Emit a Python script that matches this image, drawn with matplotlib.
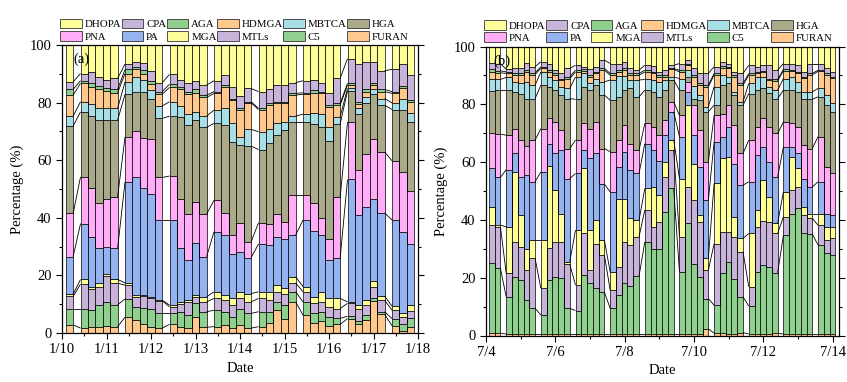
import numpy as np
import matplotlib
matplotlib.use('Agg')
import matplotlib.pyplot as plt
from matplotlib.patches import Patch
from matplotlib.collections import LineCollection
from matplotlib.ticker import MultipleLocator

plt.rcParams['font.family'] = ['Liberation Serif', 'DejaVu Serif']

# sampling times, hours after 00:00 of the first day
hours_a = [4, 12, 16, 20, 24, 28, 36, 40, 44, 48, 52, 60, 64, 68, 72, 76, 84, 88, 92, 96, 100,
           108, 112, 116, 120, 124, 132, 136, 140, 144, 148, 156, 160, 164, 168, 172, 180, 184, 188]
hours_b = [4, 8, 16, 20, 24, 28, 32, 40, 44, 48, 52, 56, 64, 68, 72, 76, 80, 88, 92, 96, 100, 104,
           112, 116, 120, 124, 128, 136, 140, 144, 148, 152, 160, 164, 168, 172, 176, 184, 188, 192,
           196, 200, 208, 212, 216, 220, 224, 232, 236, 240]
ticks_a = ['1/10', '1/11', '1/12', '1/13', '1/14', '1/15', '1/16', '1/17', '1/18']
ticks_b = ['7/4', '7/6', '7/8', '7/10', '7/12', '7/14']

# percentages, panel (a)
DHOPA_a = [12.8, 9.9, 9.3, 11.0, 12.2, 11.6, 6.6, 5.8, 6.4, 8.9, 13.1, 10.2, 12.0, 13.3, 12.4, 13.9, 12.4, 10.5, 14.7, 17.7,
           15.1, 16.2, 15.4, 13.9, 13.9, 13.1, 12.4, 12.0, 13.1, 16.8, 11.6, 4.7, 6.6, 5.8, 5.8, 8.9, 8.5, 6.6, 10.5]
CPA_a = [2.6, 2.5, 3.8, 3.3, 2.9, 3.8, 1.9, 1.8, 2.3, 3.5, 3.1, 3.4, 2.5, 2.9, 3.0, 3.5, 3.8, 3.4, 3.9, 4.3,
         4.6, 5.8, 4.9, 5.8, 5.8, 3.7, 4.2, 3.7, 3.1, 4.1, 8.7, 8.6, 13.1, 9.6, 7.3, 6.5, 7.7, 7.7, 8.6]
AGA_a = [2.0, 0.9, 1.4, 1.1, 0.8, 1.2, 1.4, 0.9, 1.2, 1.2, 0.9, 1.1, 0.9, 0.9, 1.4, 0.8, 0.6, 0.6, 0.5, 0.4,
         0.4, 0.4, 0.4, 0.4, 0.4, 0.6, 0.5, 0.9, 0.4, 0.8, 0.6, 0.6, 0.8, 0.8, 0.8, 0.8, 0.6, 0.8, 0.6]
HDMGA_a = [7.3, 6.4, 6.0, 6.6, 6.1, 5.4, 2.9, 2.5, 2.3, 2.1, 4.1, 5.0, 5.8, 6.9, 6.4, 6.5, 5.8, 7.5, 8.1, 9.5,
           9.2, 7.7, 8.3, 7.1, 6.6, 7.3, 6.9, 6.9, 7.4, 6.9, 4.0, 1.2, 1.5, 2.0, 1.5, 2.4, 3.3, 3.5, 3.8]
MBTCA_a = [3.5, 3.5, 4.2, 4.1, 4.1, 4.1, 4.3, 5.2, 4.0, 3.2, 4.3, 5.0, 3.7, 3.8, 2.9, 3.9, 4.6, 5.8, 6.4, 2.9,
           5.8, 6.2, 5.2, 4.1, 2.8, 2.0, 2.7, 4.0, 4.6, 4.7, 2.6, 0.8, 1.8, 2.1, 1.7, 2.3, 2.3, 4.0, 3.2]
HGA_a = [30.3, 22.6, 24.8, 28.9, 27.2, 26.6, 14.8, 13.6, 16.2, 13.9, 20.5, 20.8, 28.4, 30.9, 28.3, 30.1, 26.7, 30.5, 32.4, 26.9,
         33.2, 25.4, 28.0, 27.4, 31.9, 25.4, 25.4, 27.5, 31.3, 34.2, 25.4, 10.8, 19.6, 17.6, 15.7, 16.2, 17.8, 21.4, 23.9]
PNA_a = [15.0, 16.2, 17.1, 15.6, 16.8, 17.9, 15.6, 16.0, 17.4, 19.0, 14.8, 15.3, 17.3, 16.0, 14.5, 14.8, 10.9, 7.7, 6.4, 10.1,
         5.5, 7.4, 7.3, 7.9, 5.8, 13.9, 8.7, 9.5, 6.1, 7.0, 21.2, 20.0, 15.7, 18.3, 20.8, 21.2, 20.6, 20.8, 18.5]
PA_a = [13.0, 19.4, 17.3, 12.0, 9.4, 10.8, 35.1, 41.0, 37.0, 35.6, 27.8, 29.5, 18.6, 13.9, 17.9, 13.9, 20.9, 20.8, 15.6, 13.9,
        12.5, 16.6, 16.2, 16.8, 17.3, 14.5, 23.1, 22.9, 19.7, 13.5, 13.9, 42.5, 31.2, 32.4, 28.3, 28.9, 29.9, 28.2, 21.2]
MGA_a = [0.8, 1.6, 0.9, 1.3, 0.7, 1.3, 0.8, 0.6, 0.3, 0.3, 0.2, 0.6, 0.8, 0.6, 0.6, 1.8, 2.3, 1.8, 2.3, 2.3,
         2.9, 2.3, 2.9, 2.3, 1.8, 2.1, 1.8, 2.3, 3.5, 2.9, 3.5, 0.5, 1.5, 1.7, 2.0, 1.4, 1.4, 1.4, 2.0]
MTLs_a = [4.3, 8.6, 7.2, 6.3, 8.9, 7.5, 4.8, 3.6, 4.3, 4.0, 4.3, 2.2, 2.6, 4.5, 2.3, 3.4, 4.1, 4.0, 4.1, 3.5,
          4.0, 4.6, 4.0, 3.5, 4.0, 3.1, 3.5, 3.5, 3.4, 3.5, 3.4, 4.5, 4.2, 3.5, 4.1, 4.0, 2.9, 2.6, 2.6]
C5_a = [5.6, 6.7, 6.0, 7.6, 8.3, 7.6, 6.3, 4.4, 5.5, 6.1, 5.2, 3.9, 5.4, 4.6, 4.7, 5.4, 5.7, 4.6, 3.9, 5.7,
        5.1, 5.2, 3.9, 2.8, 4.7, 3.5, 4.6, 3.3, 3.4, 3.1, 2.1, 0.8, 1.0, 1.7, 1.0, 0.9, 2.5, 2.2, 2.9]
FURAN_a = [2.8, 1.7, 2.0, 2.2, 2.6, 2.2, 5.5, 4.6, 3.1, 2.2, 1.7, 3.0, 2.0, 1.7, 5.6, 2.0, 2.2, 2.8, 1.7, 2.8,
           1.7, 2.2, 3.5, 8.0, 5.0, 10.8, 6.2, 3.5, 4.0, 2.5, 3.0, 5.0, 3.0, 4.5, 11.0, 6.5, 2.5, 0.8, 2.2]

# percentages, panel (b)
DHOPA_b = [5.6, 5.9, 7.9, 7.6, 7.6, 5.6, 7.0, 5.3, 6.1, 8.2, 9.3, 7.6, 6.5, 7.0, 7.9, 7.0, 4.7, 5.9, 6.1, 5.3, 7.6, 8.2, 6.5, 6.8, 8.8,
           8.2, 6.5, 5.9, 4.7, 7.6, 9.3, 9.3, 7.0, 5.3, 5.9, 8.8, 9.3, 6.5, 7.0, 6.5, 6.5, 8.2, 5.9, 5.9, 6.5, 8.8, 5.9, 5.9, 7.6, 8.8]
CPA_b = [2.3, 2.5, 0.9, 1.5, 1.7, 2.6, 2.1, 1.7, 2.1, 1.1, 1.8, 2.9, 1.7, 0.9, 2.0, 1.8, 2.9, 3.4, 2.1, 2.3, 1.7, 1.1, 1.7, 2.0, 1.1,
         1.7, 1.1, 2.3, 1.2, 2.3, 3.5, 4.1, 2.3, 1.5, 1.1, 1.1, 3.5, 2.8, 1.8, 1.9, 4.6, 3.2, 2.0, 2.3, 2.3, 1.7, 3.4, 2.3, 1.7, 1.7]
AGA_b = [0.9, 0.7, 0.5, 0.6, 0.6, 0.6, 0.6, 0.6, 0.6, 0.6, 0.5, 0.6, 0.6, 0.5, 0.6, 0.5, 0.6, 0.6, 0.6, 0.6, 0.6, 0.6, 0.6, 0.5, 0.6,
         0.6, 0.3, 0.6, 0.5, 0.6, 0.6, 0.5, 0.6, 0.5, 0.5, 0.6, 0.6, 0.6, 0.3, 0.5, 0.5, 0.5, 0.5, 0.4, 0.4, 0.5, 0.5, 0.4, 0.5, 0.5]
HDMGA_b = [2.3, 2.3, 1.4, 2.5, 2.9, 3.4, 3.7, 1.2, 1.7, 1.7, 2.3, 3.4, 1.7, 0.9, 2.3, 1.8, 4.0, 1.7, 1.5, 2.1, 1.7, 1.7, 2.6, 2.3, 1.7,
           1.1, 2.6, 2.3, 1.6, 3.2, 3.4, 7.0, 4.0, 2.6, 3.0, 5.2, 5.7, 2.9, 1.4, 1.6, 2.3, 3.2, 2.7, 2.1, 3.0, 4.7, 5.9, 5.9, 7.0, 8.7]
MBTCA_b = [4.2, 3.7, 4.4, 3.5, 3.5, 5.8, 4.6, 4.6, 3.4, 3.5, 2.9, 3.5, 7.8, 4.6, 2.3, 2.3, 4.6, 7.0, 7.1, 4.8, 2.9, 5.8, 3.7, 4.1, 5.2,
           3.5, 1.1, 4.0, 2.5, 4.3, 1.8, 1.7, 6.4, 3.5, 2.3, 1.1, 1.2, 3.5, 4.6, 4.0, 2.1, 2.9, 4.0, 4.4, 3.5, 2.3, 2.6, 2.9, 3.5, 2.9]
HGA_b = [14.8, 15.2, 15.6, 12.7, 16.1, 16.5, 14.4, 15.0, 11.0, 11.0, 12.1, 17.3, 14.1, 12.7, 13.3, 12.7, 18.5, 17.8, 15.0, 12.1, 19.1, 18.5, 11.5, 12.1, 13.3,
         10.4, 7.5, 8.7, 1.7, 2.3, 10.3, 17.3, 3.5, 9.8, 7.5, 10.4, 16.7, 16.1, 12.9, 10.4, 11.8, 12.1, 11.0, 11.5, 12.3, 16.1, 17.0, 13.8, 21.3, 21.3]
PNA_b = [12.1, 15.0, 11.9, 8.6, 12.7, 10.0, 14.4, 15.0, 8.7, 10.9, 7.0, 10.4, 11.5, 9.3, 10.3, 10.9, 12.3, 13.9, 9.2, 9.2, 9.2, 8.0, 7.0, 8.1, 8.9,
         5.2, 3.5, 7.4, 3.5, 10.4, 12.7, 13.3, 9.2, 8.0, 7.7, 13.3, 11.0, 14.4, 9.6, 9.8, 12.1, 15.0, 8.6, 8.3, 9.0, 11.6, 13.3, 15.6, 16.2, 14.5]
PA_b = [13.5, 16.5, 19.8, 6.4, 13.3, 25.4, 20.2, 23.6, 7.8, 12.7, 21.9, 28.8, 19.6, 6.3, 24.8, 23.1, 19.4, 27.7, 11.3, 16.2, 16.7, 16.2, 15.5, 12.7, 11.8,
        9.2, 9.6, 14.5, 4.6, 9.8, 16.8, 20.1, 14.4, 7.5, 10.2, 18.4, 18.4, 17.9, 19.0, 11.5, 12.1, 16.1, 15.6, 3.3, 4.9, 9.8, 9.2, 11.0, 4.6, 4.0]
MGA_b = [6.1, 0.6, 16.1, 24.1, 10.9, 7.5, 6.3, 16.7, 28.4, 17.9, 9.8, 0.8, 19.1, 22.5, 13.9, 8.1, 5.2, 6.3, 23.3, 15.0, 9.2, 5.7, 7.5, 13.8, 9.3,
         5.4, 3.7, 20.1, 28.3, 12.7, 2.3, 4.1, 20.8, 25.4, 25.9, 6.9, 4.6, 18.4, 5.8, 14.1, 8.7, 3.5, 8.6, 11.5, 6.7, 2.9, 1.7, 4.0, 4.4, 4.0]
MTLs_b = [13.2, 14.4, 8.1, 12.4, 11.5, 10.2, 17.3, 9.2, 11.0, 12.1, 12.6, 15.3, 8.8, 14.4, 4.6, 15.5, 12.8, 6.3, 9.8, 14.2, 14.2, 13.7, 11.0, 7.8, 9.2,
          11.9, 13.2, 12.2, 12.6, 21.9, 19.0, 9.8, 21.3, 14.4, 10.4, 14.5, 15.6, 6.7, 15.6, 15.4, 15.5, 13.6, 6.4, 8.1, 7.4, 6.3, 5.4, 6.9, 4.8, 5.8]
C5_b = [24.2, 22.4, 12.9, 19.6, 18.7, 11.9, 8.9, 6.6, 18.7, 19.8, 19.3, 8.9, 8.1, 20.4, 17.5, 15.8, 14.5, 8.9, 13.5, 17.7, 16.6, 20.0, 31.9, 29.3, 29.6,
        42.3, 50.4, 21.5, 38.3, 24.4, 19.8, 10.5, 9.7, 20.7, 25.0, 19.2, 12.4, 9.7, 21.5, 23.8, 23.3, 20.9, 34.2, 41.7, 43.5, 34.8, 34.6, 30.8, 27.9, 27.3]
FURAN_b = [0.8, 0.8, 0.5, 0.5, 0.5, 0.5, 0.5, 0.5, 0.5, 0.5, 0.5, 0.5, 0.5, 0.5, 0.5, 0.5, 0.5, 0.5, 0.5, 0.5, 0.5, 0.5, 0.5, 0.5, 0.5,
           0.5, 0.5, 0.5, 0.5, 0.5, 0.5, 2.3, 0.8, 0.8, 0.5, 0.5, 1.0, 0.5, 0.5, 0.5, 0.5, 0.8, 0.5, 0.5, 0.5, 0.5, 0.5, 0.5, 0.5, 0.5]

panel_a = {'DHOPA': DHOPA_a, 'CPA': CPA_a, 'AGA': AGA_a, 'HDMGA': HDMGA_a, 'MBTCA': MBTCA_a, 'HGA': HGA_a,
           'PNA': PNA_a, 'PA': PA_a, 'MGA': MGA_a, 'MTLs': MTLs_a, 'C5': C5_a, 'FURAN': FURAN_a}
panel_b = {'DHOPA': DHOPA_b, 'CPA': CPA_b, 'AGA': AGA_b, 'HDMGA': HDMGA_b, 'MBTCA': MBTCA_b, 'HGA': HGA_b,
           'PNA': PNA_b, 'PA': PA_b, 'MGA': MGA_b, 'MTLs': MTLs_b, 'C5': C5_b, 'FURAN': FURAN_b}

colors = {'DHOPA': '#FFFF99', 'CPA': '#C8B4DA', 'AGA': '#8FD08F', 'HDMGA': '#FFC98E',
          'MBTCA': '#A8DEE6', 'HGA': '#AAAA8A', 'PNA': '#FFADF7', 'PA': '#94B3F0',
          'MGA': '#FFFF99', 'MTLs': '#C8B4DA', 'C5': '#8FD08F', 'FURAN': '#FFC98E'}
# bottom -> top
stack_order = ['FURAN', 'C5', 'MTLs', 'MGA', 'PA', 'PNA', 'HGA', 'MBTCA', 'HDMGA', 'AGA', 'CPA', 'DHOPA']
legend_order = ['DHOPA', 'PNA', 'CPA', 'PA', 'AGA', 'MGA', 'HDMGA', 'MTLs', 'MBTCA', 'C5', 'HGA', 'FURAN']


def draw_panel(ax, hours, shares, width=4.0):
    x = np.asarray(hours, dtype=float)
    base = np.zeros(len(x))
    levels = []
    for name in stack_order:
        vals = np.asarray(shares[name], dtype=float)
        ax.bar(x, vals, width=width, bottom=base, color=colors[name],
               edgecolor='black', linewidth=0.5, zorder=2)
        base = base + vals
        levels.append(base.copy())
    # Origin-style connect lines between neighbouring columns
    segs = []
    for lvl in levels:
        for i in range(len(x) - 1):
            segs.append([(x[i] + width / 2, lvl[i]), (x[i + 1] - width / 2, lvl[i + 1])])
    ax.add_collection(LineCollection(segs, colors='black', linewidths=0.6, zorder=3))


def style_axes(ax, xmax, major, labels, minor):
    ax.set_xlim(0, xmax)
    ax.set_ylim(0, 100)
    ax.set_xticks(np.arange(len(labels)) * major)
    ax.set_xticklabels(labels)
    ax.xaxis.set_minor_locator(MultipleLocator(minor))
    ax.yaxis.set_major_locator(MultipleLocator(20))
    ax.yaxis.set_minor_locator(MultipleLocator(10))
    ax.tick_params(which='both', direction='out', labelsize=10.5, right=True, width=0.8)
    ax.tick_params(which='major', length=4)
    ax.tick_params(which='minor', length=2.5)
    for sp in ax.spines.values():
        sp.set_linewidth(0.9)
        sp.set_zorder(4)
    ax.set_xlabel('Date', fontsize=10.5)
    ax.set_ylabel('Percentage (%)', fontsize=10.5, labelpad=4)
    handles = [Patch(facecolor=colors[n], edgecolor='#333333', linewidth=0.6) for n in legend_order]
    return handles


fig = plt.figure(figsize=(8.47, 3.82), dpi=100)
ax_a = fig.add_axes([62 / 847, 49 / 382, 356 / 847, 288 / 382])
ax_b = fig.add_axes([486 / 847, 46.5 / 382, 353 / 847, 289 / 382])

draw_panel(ax_a, hours_a, panel_a)
draw_panel(ax_b, hours_b, panel_b)

for ax, xmax, major, labels, minor, tag, lx in [(ax_a, 192, 24, ticks_a, 12, '(a)', 0.032),
                                                (ax_b, 244.5, 48, ticks_b, 24, '(b)', 0.022)]:
    handles = style_axes(ax, xmax, major, labels, minor)
    ax.legend(handles, legend_order, ncol=6, loc='lower left', bbox_to_anchor=(-0.005, 1.012),
              frameon=False, fontsize=7.8, handlelength=2.0, handleheight=1.0, handletextpad=0.25,
              columnspacing=0.05, labelspacing=0.15, borderpad=0.0, borderaxespad=0.0)
    ax.text(lx, 0.95, tag, transform=ax.transAxes, fontsize=10.5, va='center', ha='left', zorder=5)

fig.savefig('out.png', dpi=100)
